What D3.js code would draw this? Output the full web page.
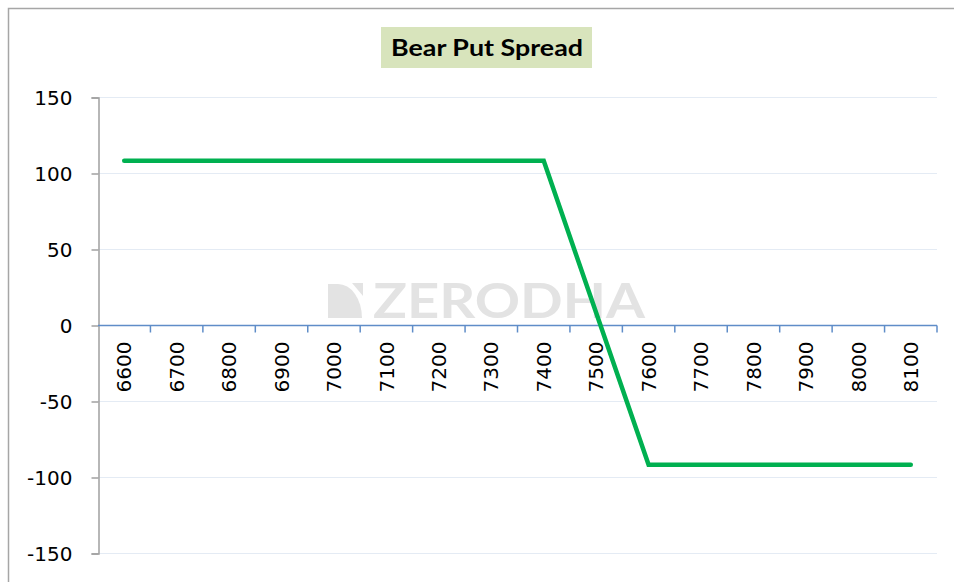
<!DOCTYPE html>
<html><head><meta charset="utf-8">
<script src="https://cdn.jsdelivr.net/npm/d3@7"></script>
<style>
html,body{margin:0;padding:0;background:#fff;}
svg{display:block;}
</style></head>
<body>
<svg id="chart" width="954" height="582"></svg>
<script>
const categories = [6600,6700,6800,6900,7000,7100,7200,7300,7400,7500,7600,7700,7800,7900,8000,8100];
const payoff = [108,108,108,108,108,108,108,108,108,8,-92,-92,-92,-92,-92,-92];
const yTicks = [-150,-100,-50,0,50,100,150];
const title = "Bear Put Spread";
const watermark = "ZERODHA";

const svg = d3.select("#chart");

// outer chart border
svg.append("path").attr("d","M8.5,582 V8.5 H954").attr("fill","none").attr("stroke","#a6a6a6").attr("stroke-width",1.5);

const x = d3.scaleBand().domain(categories).range([98, 937]).padding(0);
const y = d3.scaleLinear().domain([-150,150]).range([553, 97]);

// gridlines
svg.append("g").selectAll("line").data(yTicks.filter(d=>d!==0)).join("line")
  .attr("x1",98).attr("x2",937).attr("y1",d=>y(d)+0.5).attr("y2",d=>y(d)+0.5)
  .attr("stroke","#e4ebf4").attr("stroke-width",1.2);

// watermark
const wm = svg.append("g").attr("fill","#e3e3e3");
wm.append("path").attr("d","M328,318 V284 H338 A24,34 0 0 1 362,318 Z");
wm.append("path").attr("d","M348,283 L363,283 L363,300 Z").attr("fill","#fff");
wm.append("path").attr("d","M352,283 L363,283 L363,296 Z");
wm.append("text").attr("x",373).attr("y",318).attr("font-family","Lato, 'Open Sans', sans-serif")
  .attr("font-size",47).attr("font-weight",700).attr("textLength",272).attr("lengthAdjust","spacingAndGlyphs")
  .text(watermark);

// y axis
const yAxis = d3.axisLeft(y).tickValues(yTicks).tickSize(7).tickPadding(19).tickFormat(d=>String(d));
const gy = svg.append("g").attr("transform","translate(98.5,0.5)").call(yAxis);
gy.select(".domain").attr("stroke","#a0a0a0").attr("stroke-width",1.5);
gy.selectAll(".tick line").attr("stroke","#a0a0a0").attr("stroke-width",1.5);
gy.selectAll("text").attr("font-family","'DejaVu Sans', Verdana, sans-serif").attr("font-size",20).attr("fill","#000").attr("dy","0.36em");

// x axis at zero
const xAxis = d3.axisBottom(x).tickSize(0).tickFormat(d=>String(d));
const gx = svg.append("g").attr("transform",`translate(0,${y(0)+0.5})`).call(xAxis);
gx.select(".domain").attr("d",`M98,0H937`).attr("stroke","#5f8dc8").attr("stroke-width",1.5);
// tick marks at category boundaries
const bounds = categories.map(c=>x(c)).concat([x(categories[categories.length-1])+x.bandwidth()]).slice(1);
gx.append("g").selectAll("line").data(bounds).join("line")
  .attr("x1",d=>d).attr("x2",d=>d).attr("y1",0).attr("y2",7)
  .attr("stroke","#5f8dc8").attr("stroke-width",1.5);
gx.selectAll(".tick text")
  .attr("font-family","'DejaVu Sans', Verdana, sans-serif").attr("font-size",20).attr("fill","#000")
  .attr("transform","rotate(-90)").attr("text-anchor","end").attr("x",-16).attr("y",0).attr("dy","0.36em");

// line
const line = d3.line().x((d,i)=>x(categories[i])+x.bandwidth()/2).y(d=>y(d));
svg.append("path").datum(payoff).attr("d",line).attr("fill","none")
  .attr("stroke","#00b050").attr("stroke-width",4.5).attr("stroke-linecap","round").attr("stroke-linejoin","miter");

// title
svg.append("rect").attr("x",381).attr("y",27).attr("width",211).attr("height",41).attr("fill","#d8e4bc");
svg.append("text").attr("x",487).attr("y",56).attr("text-anchor","middle")
  .attr("font-family","Lato, Carlito, 'Open Sans', sans-serif").attr("font-weight",700).attr("font-size",23)
  .attr("textLength",192).attr("lengthAdjust","spacingAndGlyphs").attr("fill","#000").text(title);
</script>
</body></html>
